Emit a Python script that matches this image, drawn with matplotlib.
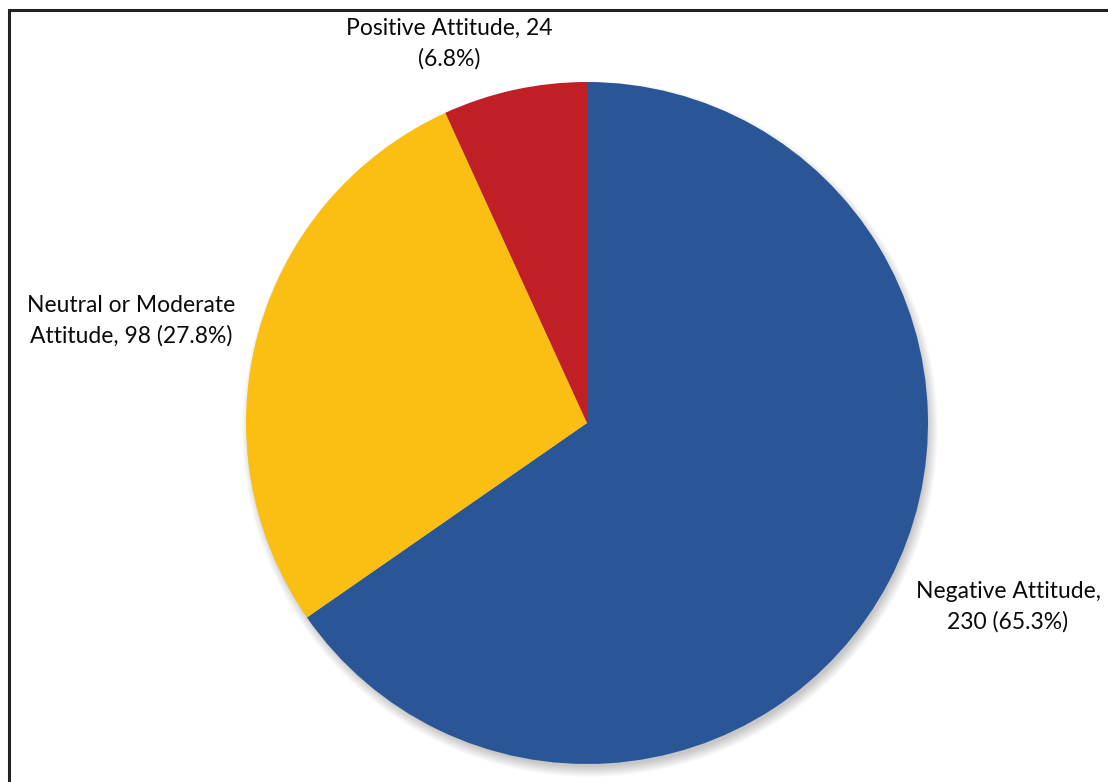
import matplotlib
matplotlib.use("Agg")
import matplotlib.pyplot as plt
from matplotlib.patches import Circle, Rectangle

categories = ["Negative Attitude", "Neutral or Moderate Attitude", "Positive Attitude"]
counts = [230, 98, 24]
percents = [65.3, 27.8, 6.8]
colors = ["#2A5697", "#FBBF13", "#C01F25"]
label_texts = ["Negative Attitude,\n230 (65.3%)",
               "Neutral or Moderate\nAttitude, 98 (27.8%)",
               "Positive Attitude, 24\n(6.8%)"]

W, H = 1108, 782
fig = plt.figure(figsize=(W / 100, H / 100), dpi=100)
ax = fig.add_axes([0, 0, 1, 1])
ax.set_xlim(0, W)
ax.set_ylim(0, H)
ax.set_aspect("equal")
ax.axis("off")

cx, cy, r = 587, H - 423, 341

# soft shadow
for i in range(14):
    ax.add_patch(Circle((cx + 3, cy - 6), r + 7 - i * 0.8, color="black",
                        alpha=0.016, lw=0, zorder=1))

ax.pie(counts, colors=colors, startangle=90, counterclock=False,
       center=(cx, cy), radius=r, wedgeprops=dict(linewidth=0, zorder=2),
       frame=True)
ax.set_xlim(0, W)
ax.set_ylim(0, H)
ax.axis("off")

font = dict(family=["Lato", "DejaVu Sans"], fontsize=16.5, color="#0a0a0a",
            ha="center", va="center", linespacing=1.55)
ax.text(1008, H - 607, label_texts[0], **font)
ax.text(131, H - 321, label_texts[1], **font)
ax.text(449, H - 44, label_texts[2], **font)

# frame
ax.add_patch(Rectangle((9, -10), W + 20, H - 9 + 10 - 1, fill=False,
                       edgecolor="#222222", lw=2.2, zorder=5, clip_on=False))

fig.savefig("out.png", dpi=100)
